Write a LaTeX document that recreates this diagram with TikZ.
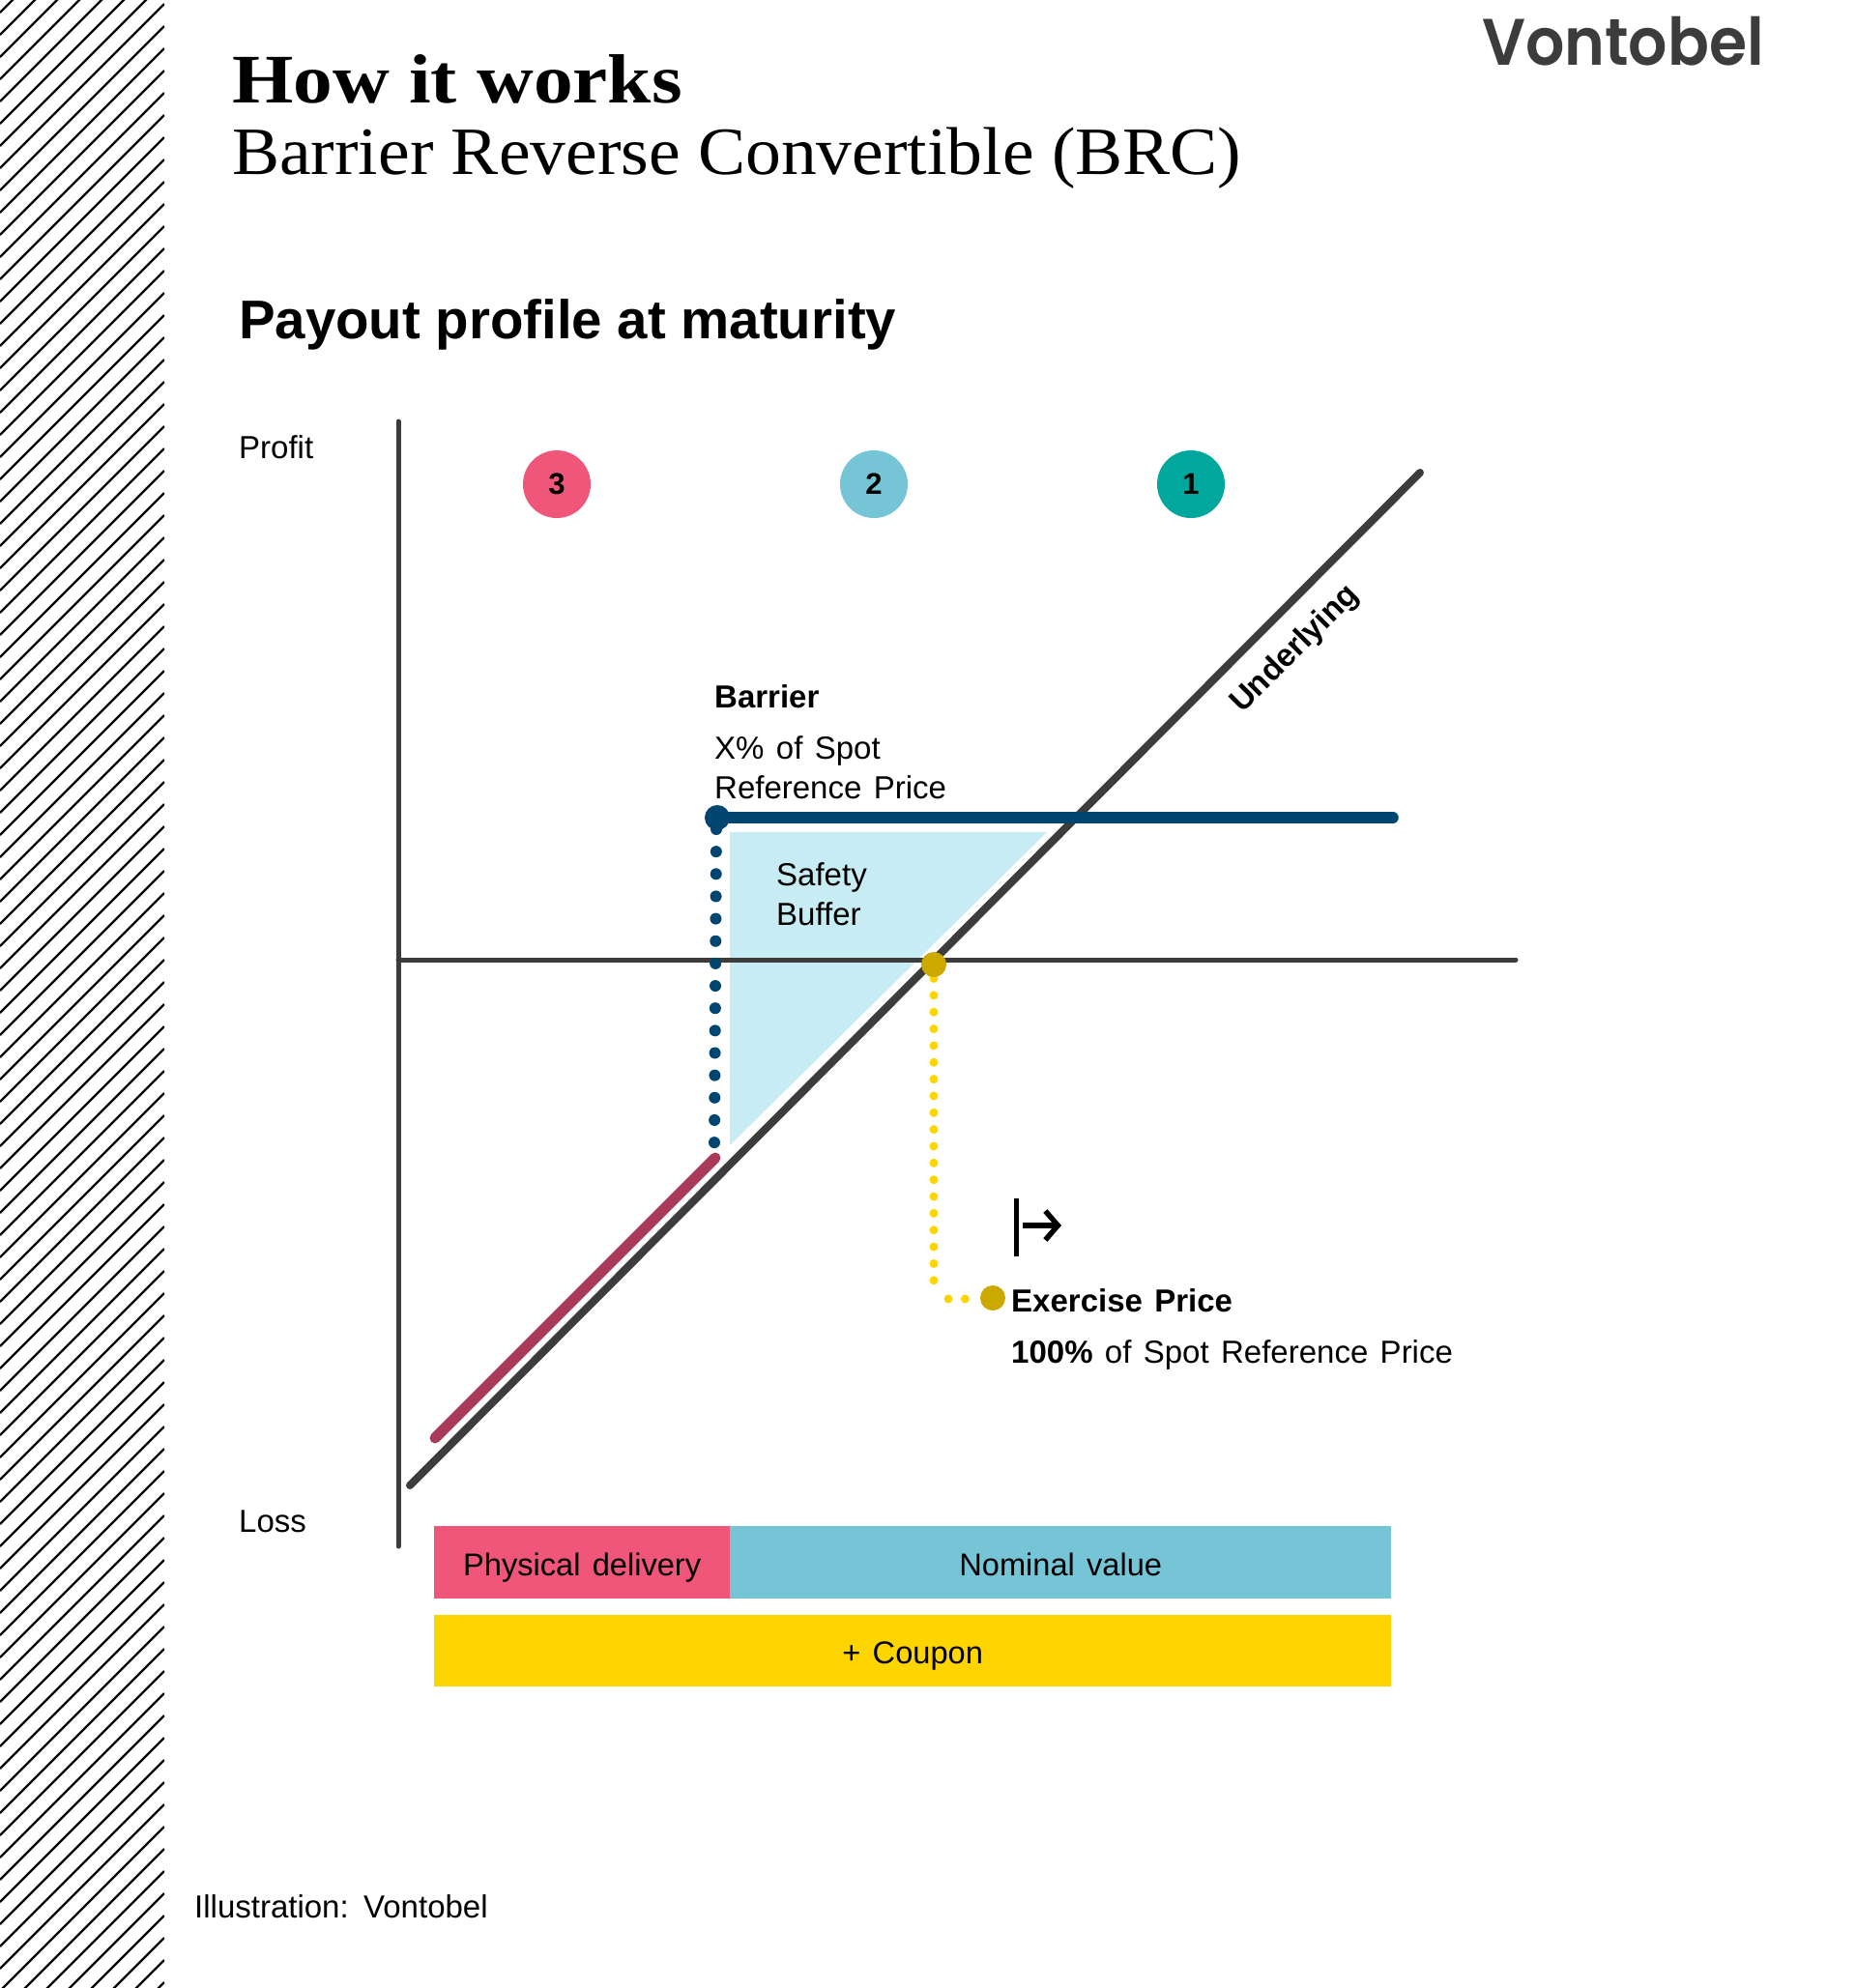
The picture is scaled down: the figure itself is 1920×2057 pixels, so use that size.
\documentclass[tikz,border=0pt]{standalone}
\usepackage{fontspec}
\setmainfont{Liberation Sans}[WordSpace=1.35]
\newfontfamily\headfont{Liberation Sans}
\newfontfamily\titleserif{Liberation Serif}
\newfontfamily\logofont{Poppins SemiBold}
\usetikzlibrary{arrows.meta}
\definecolor{axisgrey}{HTML}{3C3C3A}
\definecolor{barrierblue}{HTML}{004670}
\definecolor{bufferblue}{HTML}{C7ECF3}
\definecolor{pinkred}{HTML}{F0557A}
\definecolor{skyblue}{HTML}{76C5D6}
\definecolor{teal}{HTML}{00A79D}
\definecolor{wine}{HTML}{A93A5A}
\definecolor{gold}{HTML}{CCA900}
\definecolor{yellowbar}{HTML}{FFD500}
\tikzset{
  x=1pt,y=-1pt,
  lab/.style={anchor=base west,inner sep=0pt,font=\fontsize{33}{33}\selectfont,text=black},
  blab/.style={lab,font=\fontsize{33}{33}\selectfont\bfseries},
  num/.style={circle,minimum size=70pt,inner sep=0pt,font=\fontsize{31}{31}\selectfont\bfseries,text=black},
  dot/.style={circle,minimum size=#1,inner sep=0pt},
  barbox/.style={rectangle,inner sep=0pt,font=\fontsize{32.6}{33}\selectfont,text=black,anchor=north west,text height=35pt,text depth=8pt},
  axisline/.style={draw=axisgrey,line width=5pt},
  bluedots/.style={draw=barrierblue,line width=12pt,line cap=round,dash pattern=on 0pt off 23.15pt},
  yellowdots/.style={draw=yellowbar,line width=9pt,line cap=round,dash pattern=on 0pt off 17.35pt},
}
\begin{document}
\begin{tikzpicture}
\useasboundingbox (0,0) rectangle (1920,2057);
\fill[white] (0,0) rectangle (1920,2057);
% hatching
\begin{scope}
\clip (0,0) rectangle (170,2057);
\foreach \k in {-8,...,90}{
  \draw[black,line width=2.2pt] (0,{174+23*\k}) -- (170,{4+23*\k});
}
\end{scope}
% texts at top
\node[anchor=base west,inner sep=0pt,font=\titleserif\bfseries\fontsize{72}{72}\selectfont,text=black] (title) at (240,106) {\scalebox{1.13}[1]{How it works}};
\node[anchor=base west,inner sep=0pt,font=\titleserif\fontsize{70}{70}\selectfont,text=black] (subtitle) at (240,180) {\scalebox{1.051}[1]{Barrier Reverse Convertible (BRC)}};
\node[anchor=base west,inner sep=0pt,font=\logofont\fontsize{68}{68}\selectfont,text=axisgrey] (logo) at (1533,67) {\scalebox{0.93}[1]{Vontobel}};
\node[anchor=base west,inner sep=0pt,font=\headfont\bfseries\fontsize{56.4}{56}\selectfont,text=black] (heading) at (247,350) {Payout profile at maturity};
% coordinates
\coordinate (axtop) at (412,436);
\coordinate (axbot) at (412,1600);
\coordinate (axl) at (412,993);
\coordinate (axr) at (1568,993);
\coordinate (ula) at (424,1537);
\coordinate (ulb) at (1469,489);
\coordinate (barl) at (742,846);
\coordinate (barr) at (1441,846);
\coordinate (bdota) at (741,858);
\coordinate (bdotend) at (739,1183);
\coordinate (wa) at (450,1488);
\coordinate (wb) at (740,1198);
\coordinate (ytop) at (966,1012.5);
\coordinate (ycorner) at (966,1342);
\coordinate (yh) at (981,1344);
\coordinate (yend) at (999,1344);
% buffer
\fill[bufferblue] (755,861) -- (1083,861) -- (755,1185) -- cycle;
\node[lab] (buf1) at (803,916) {Safety};
\node[lab] (buf2) at (803,957) {Buffer};
% axes
\draw[axisline,line cap=round] (axtop) -- (axbot);
\draw[axisline,line cap=round] (axl) -- (axr);
\draw[draw=axisgrey,line width=8pt,line cap=round] (ula) -- (ulb);
% wine
\draw[draw=wine,line width=11pt,line cap=round] (wa) -- (wb);
% barrier
\draw[bluedots] (bdota) -- (bdotend);
\draw[draw=barrierblue,line width=11.5pt,line cap=round] (barl) -- (barr);
\node[dot=26pt,fill=barrierblue] (bard) at (barl) {};
% exercise
\draw[yellowdots] (ytop) -- (ycorner);
\draw[yellowdots] (yh) -- (yend);
\node[dot=26pt,fill=gold] (golda) at (966,998) {};
\node[dot=26pt,fill=gold] (goldb) at (1027,1343) {};
\draw[black,line width=5pt] (1051,1240) -- (1051,1300);
\draw[black,line width=5.5pt,-{Straight Barb[length=13pt,width=30pt,line width=5.5pt]}] (1058,1268) -- (1098,1268);
% numbered
\node[num,fill=pinkred] (n3) at (576,501) {3};
\node[num,fill=skyblue] (n2) at (904,501) {2};
\node[num,fill=teal] (n1) at (1232,501) {1};
% labels
\node[lab] (profit) at (247,474) {Profit};
\node[lab] (loss) at (247,1585) {Loss};
\node[blab] (barrier) at (739,732) {Barrier};
\node[lab] (spot1) at (739,785) {X\% of Spot};
\node[lab] (spot2) at (739,826) {Reference Price};
\node[blab] (ex) at (1046,1357) {Exercise Price};
\node[lab] (ex2) at (1046,1410) {\textbf{100\%} of Spot Reference Price};
\node[inner sep=0pt,rotate=45,font=\fontsize{33}{33}\selectfont\bfseries,text=black] (under) at (1340,672) {Underlying};
% bars
\node[barbox,fill=pinkred,minimum width=306pt,minimum height=75pt] (phys) at (449,1579) {Physical delivery};
\node[barbox,fill=skyblue,minimum width=684pt,minimum height=75pt] (nom) at (755,1579) {Nominal value};
\node[barbox,fill=yellowbar,minimum width=990pt,minimum height=74pt] (coup) at (449,1671) {+ Coupon};
\node[lab] (ill) at (201,1984) {Illustration: Vontobel};
\end{tikzpicture}
\end{document}
